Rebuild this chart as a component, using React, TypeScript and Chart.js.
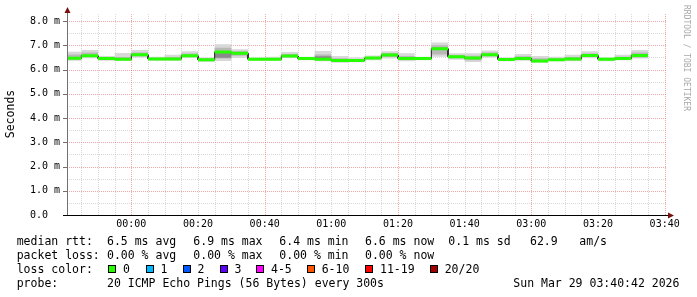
import React, { useEffect, useRef } from 'react';
import { Chart, registerables } from 'chart.js';

Chart.register(...registerables);

// ---- time axis (minutes of real time since 23:40, DST jump 02:00 -> 03:00) ----
const graphStart = 0.7;   // 23:40:42
const graphEnd = 180.7;   // 03:40:42 (CEST)
const stepEnd = [5, 10, 15, 20, 25, 30, 35, 40, 45, 50, 55, 60, 65, 70, 75, 80, 85, 90, 95, 100, 105, 110, 115, 120, 125, 130, 135, 140, 145, 150, 155, 160, 165, 170, 175];
const xGridMinutes = [5, 10, 15, 20, 25, 30, 35, 40, 45, 50, 55, 60, 65, 70, 75, 80, 85, 90, 95, 100, 105, 110, 115, 120, 125, 130, 135, 140, 145, 150, 155, 160, 165, 170, 175, 180];
const xMajorMinutes = [20, 60, 100, 140, 180];
const xTickValues = [20, 40, 60, 80, 100, 120, 140, 160, 180];
const xTickLabels = ['00:00', '00:20', '00:40', '01:00', '01:20', '01:40', '03:00', '03:20', '03:40'];

// ---- value axis (ms) ----
const yGridValues = [0, 0.5, 1, 1.5, 2, 2.5, 3, 3.5, 4, 4.5, 5, 5.5, 6, 6.5, 7, 7.5, 8];
const yTickValues = [0, 1, 2, 3, 4, 5, 6, 7, 8];
const yTickLabels = ['0.0  ', '1.0 m', '2.0 m', '3.0 m', '4.0 m', '5.0 m', '6.0 m', '7.0 m', '8.0 m'];
const yMax = 8.33;

// ---- series (ms) ----
const median = [6.46, 6.57, 6.45, 6.42, 6.61, 6.43, 6.43, 6.57, 6.40, 6.72, 6.67, 6.42, 6.42, 6.56, 6.45, 6.42, 6.37, 6.37, 6.47, 6.60, 6.45, 6.45, 6.86, 6.53, 6.47, 6.61, 6.41, 6.45, 6.35, 6.40, 6.43, 6.58, 6.42, 6.45, 6.58];
const smokeMax = [6.73, 6.80, 6.56, 6.68, 6.80, 6.53, 6.61, 6.75, 6.50, 7.04, 6.83, 6.48, 6.53, 6.72, 6.53, 6.76, 6.56, 6.50, 6.58, 6.75, 6.67, 6.53, 7.11, 6.67, 6.67, 6.78, 6.50, 6.64, 6.56, 6.53, 6.61, 6.75, 6.50, 6.61, 6.80];
const smokeMin = [6.36, 6.46, 6.36, 6.36, 6.50, 6.36, 6.36, 6.47, 6.31, 6.35, 6.47, 6.36, 6.36, 6.47, 6.38, 6.34, 6.28, 6.30, 6.38, 6.45, 6.34, 6.38, 6.53, 6.40, 6.31, 6.50, 6.34, 6.36, 6.28, 6.34, 6.34, 6.47, 6.34, 6.38, 6.45];
const smokeHi = [6.62, 6.70, 6.50, 6.52, 6.70, 6.48, 6.52, 6.66, 6.45, 6.90, 6.75, 6.45, 6.47, 6.64, 6.49, 6.62, 6.46, 6.43, 6.52, 6.68, 6.56, 6.49, 7.00, 6.60, 6.57, 6.70, 6.45, 6.55, 6.46, 6.46, 6.52, 6.66, 6.46, 6.53, 6.70];
const smokeLo = [6.40, 6.52, 6.40, 6.38, 6.55, 6.39, 6.39, 6.52, 6.35, 6.45, 6.57, 6.39, 6.39, 6.51, 6.41, 6.37, 6.32, 6.33, 6.42, 6.52, 6.39, 6.41, 6.62, 6.46, 6.38, 6.55, 6.37, 6.40, 6.31, 6.37, 6.38, 6.52, 6.38, 6.41, 6.50];
const coreHi = [6.50, 6.60, 6.47, 6.45, 6.64, 6.45, 6.46, 6.60, 6.42, 6.74, 6.70, 6.43, 6.44, 6.59, 6.46, 6.55, 6.40, 6.39, 6.49, 6.63, 6.48, 6.47, 6.90, 6.55, 6.50, 6.64, 6.43, 6.48, 6.38, 6.42, 6.46, 6.61, 6.44, 6.48, 6.62];
const coreLo = [6.44, 6.55, 6.43, 6.40, 6.58, 6.41, 6.41, 6.55, 6.38, 6.48, 6.63, 6.40, 6.40, 6.54, 6.43, 6.40, 6.35, 6.35, 6.45, 6.57, 6.42, 6.43, 6.80, 6.50, 6.43, 6.58, 6.39, 6.43, 6.33, 6.38, 6.41, 6.55, 6.40, 6.43, 6.55];

// ---- legend texts ----
const rttStats = ['6.5 ms avg', '6.9 ms max', '6.4 ms min', '6.6 ms now', '0.1 ms sd', '62.9', 'am/s'];
const lossStats = ['0.00 % avg', '0.00 % max', '0.00 % min', '0.00 % now'];
const lossLevels = ['0', '1', '2', '3', '4-5', '6-10', '11-19', '20/20'];
const lossColors = ['#26ff00', '#00b8ff', '#0059ff', '#5e00ff', '#ff00ff', '#ff5500', '#ff0000', '#a10000'];
const probeText = '20 ICMP Echo Pings (56 Bytes) every 300s';
const dateText = 'Sun Mar 29 03:40:42 2026';
const watermark = 'RRDTOOL / TOBI OETIKER';

const MONO = "'DejaVu Sans Mono', monospace";
const MINOR_GRID = 'rgba(186,186,186,0.55)';
const MAJOR_GRID = 'rgba(224,80,80,0.5)';

function stepPoints(values: number[]) {
  const pts: { x: number; y: number | null }[] = [];
  values.forEach((v, i) => {
    const s = i === 0 ? graphStart : stepEnd[i - 1];
    pts.push({ x: s, y: v }, { x: stepEnd[i], y: v });
  });
  return pts;
}

function segmentPoints(values: number[]) {
  const pts: { x: number; y: number | null }[] = [];
  values.forEach((v, i) => {
    const s = i === 0 ? graphStart : stepEnd[i - 1];
    pts.push({ x: s, y: v }, { x: stepEnd[i], y: v }, { x: stepEnd[i], y: null });
  });
  return pts;
}

const gridPlugin = {
  id: 'rrdGrid',
  beforeDatasetsDraw(chart: any) {
    const { ctx, chartArea } = chart;
    const { left, right, top, bottom } = chartArea;
    const xs = chart.scales.x;
    const ys = chart.scales.y;
    ctx.save();
    ctx.lineWidth = 1;
    ctx.setLineDash([1, 1]);
    const drawSet = (major: boolean) => {
      ctx.strokeStyle = major ? MAJOR_GRID : MINOR_GRID;
      ctx.beginPath();
      xGridMinutes.forEach((v) => {
        if (xMajorMinutes.includes(v) !== major) return;
        const px = Math.round(xs.getPixelForValue(v)) + 0.5;
        ctx.moveTo(px, bottom);
        ctx.lineTo(px, top);
      });
      yGridValues.forEach((v) => {
        if (v === 0) return;
        if (yTickValues.includes(v) !== major) return;
        const py = Math.round(ys.getPixelForValue(v)) + 0.5;
        ctx.moveTo(left, py);
        ctx.lineTo(right, py);
      });
      ctx.stroke();
    };
    drawSet(false);
    drawSet(true);
    ctx.restore();
  },
};

const axesPlugin = {
  id: 'rrdAxes',
  afterDatasetsDraw(chart: any) {
    const { ctx, chartArea } = chart;
    const { left, right, top, bottom } = chartArea;
    const ys = chart.scales.y;
    ctx.save();
    ctx.lineWidth = 1;
    // y axis
    ctx.strokeStyle = '#707070';
    ctx.beginPath();
    ctx.moveTo(left + 0.5, bottom);
    ctx.lineTo(left + 0.5, top - 3);
    yTickValues.forEach((v) => {
      const py = Math.round(ys.getPixelForValue(v)) + 0.5;
      ctx.moveTo(left - 4, py);
      ctx.lineTo(left, py);
    });
    ctx.stroke();
    // x axis
    ctx.strokeStyle = '#000000';
    ctx.beginPath();
    ctx.moveTo(left - 4, bottom + 0.5);
    ctx.lineTo(right + 2, bottom + 0.5);
    ctx.stroke();
    // arrows
    ctx.fillStyle = '#7a1010';
    ctx.beginPath();
    ctx.moveTo(left + 0.5, top - 6);
    ctx.lineTo(left + 3.5, top);
    ctx.lineTo(left - 2.5, top);
    ctx.closePath();
    ctx.fill();
    ctx.beginPath();
    ctx.moveTo(right + 7, bottom + 0.5);
    ctx.lineTo(right + 1, bottom + 3.5);
    ctx.lineTo(right + 1, bottom - 2.5);
    ctx.closePath();
    ctx.fill();
    ctx.restore();
  },
};

function ChartCanvas() {
  const ref = useRef<HTMLCanvasElement | null>(null);
  useEffect(() => {
    if (!ref.current) return;
    const transparent = 'rgba(0,0,0,0)';
    const band = (data: any, color: string, fill: any, order: number) => ({
      data,
      borderColor: transparent,
      borderWidth: 0,
      backgroundColor: color,
      fill,
      pointRadius: 0,
      tension: 0,
      order,
    });
    const chart = new Chart(ref.current, {
      type: 'line',
      data: {
        datasets: [
          {
            data: segmentPoints(median),
            borderColor: '#26ff00',
            borderWidth: 3,
            borderCapStyle: 'butt',
            pointRadius: 0,
            tension: 0,
            fill: false,
            spanGaps: false,
            order: 0,
          } as any,
          {
            data: stepPoints(median),
            borderColor: '#1c1c1c',
            borderWidth: 1,
            pointRadius: 0,
            tension: 0,
            fill: false,
            order: 1,
          } as any,
          band(stepPoints(coreHi), '#8a8a8a', '+1', 2),
          band(stepPoints(coreLo), transparent, false, 2),
          band(stepPoints(smokeHi), '#b8b8b8', '+1', 3),
          band(stepPoints(smokeLo), transparent, false, 3),
          band(stepPoints(smokeMax), '#d8d8d8', '+1', 4),
          band(stepPoints(smokeMin), transparent, false, 4),
        ],
      },
      options: {
        responsive: false,
        animation: false,
        events: [],
        layout: { padding: { left: 0, top: 13, right: 30, bottom: 0 } },
        plugins: {
          legend: { display: false },
          tooltip: { enabled: false },
          title: { display: false },
        },
        scales: {
          x: {
            type: 'linear',
            min: graphStart,
            max: graphEnd,
            afterBuildTicks: (scale: any) => {
              scale.ticks = xGridMinutes.map((v) => ({ value: v }));
            },
            afterFit: (scale: any) => {
              scale.height = 82;
            },
            ticks: {
              autoSkip: false,
              maxRotation: 0,
              minRotation: 0,
              padding: 3,
              color: '#000',
              font: { family: MONO, size: 10 },
              callback: (value: any) => {
                const idx = xTickValues.indexOf(Number(value));
                return idx >= 0 ? xTickLabels[idx] : '';
              },
            },
            grid: { display: false, drawTicks: false },
            border: { display: false },
          },
          y: {
            type: 'linear',
            min: 0,
            max: yMax,
            afterBuildTicks: (scale: any) => {
              scale.ticks = yGridValues.map((v) => ({ value: v }));
            },
            afterFit: (scale: any) => {
              scale.width = 67;
            },
            ticks: {
              padding: 7,
              color: '#000',
              font: { family: MONO, size: 10 },
              callback: (value: any) => {
                const idx = yTickValues.indexOf(Number(value));
                return idx >= 0 ? yTickLabels[idx] : '';
              },
            },
            grid: { display: false, drawTicks: false },
            border: { display: false },
            title: {
              display: true,
              text: 'Seconds',
              color: '#000',
              font: { family: MONO, size: 11.5 },
              padding: { top: 4, bottom: 0 },
            },
          },
        },
      } as any,
      plugins: [gridPlugin, axesPlugin],
    });
    return () => chart.destroy();
  }, []);
  return (
    <canvas
      ref={ref}
      width={697}
      height={297}
      style={{ position: 'absolute', left: 0, top: 0, width: 697, height: 297 }}
    />
  );
}

const txt: React.CSSProperties = {
  position: 'absolute',
  fontFamily: MONO,
  fontSize: 11.5,
  lineHeight: '14px',
  whiteSpace: 'pre',
  color: '#000',
};

export default function App() {
  const rttX = [107, 193.3, 279.3, 365, 448.3, 530, 579.3];
  const lossX = [107, 193.3, 279.3, 365];
  const boxX = [108.3, 145.7, 182.7, 219.7, 256.3, 307, 365.3, 430];
  const rowTop = [234.3, 247.7, 262.3, 276];
  return (
    <div style={{ position: 'fixed', left: 0, top: 0, width: 697, height: 297, background: '#fff', overflow: 'hidden' }}>
      <ChartCanvas />
      <div
        style={{
          position: 'absolute',
          left: 681,
          top: 5,
          writingMode: 'vertical-rl',
          fontFamily: MONO,
          fontSize: 8,
          lineHeight: '10px',
          color: '#a8a8a8',
          whiteSpace: 'pre',
        }}
      >
        {watermark}
      </div>
      <span style={{ ...txt, left: 16.7, top: rowTop[0] }}>median rtt:</span>
      {rttStats.map((s, i) => (
        <span key={'r' + i} style={{ ...txt, left: rttX[i], top: rowTop[0] }}>{s}</span>
      ))}
      <span style={{ ...txt, left: 16.7, top: rowTop[1] }}>packet loss:</span>
      {lossStats.map((s, i) => (
        <span key={'l' + i} style={{ ...txt, left: lossX[i], top: rowTop[1] }}>{s}</span>
      ))}
      <span style={{ ...txt, left: 16.7, top: rowTop[2] }}>loss color:</span>
      {lossLevels.map((s, i) => (
        <React.Fragment key={'c' + i}>
          <span
            style={{
              position: 'absolute',
              left: boxX[i],
              top: rowTop[2] + 3,
              width: 6,
              height: 6,
              border: '1px solid #000',
              background: lossColors[i],
            }}
          />
          <span style={{ ...txt, left: boxX[i] + 14.7, top: rowTop[2] }}>{s}</span>
        </React.Fragment>
      ))}
      <span style={{ ...txt, left: 16.7, top: rowTop[3] }}>probe:</span>
      <span style={{ ...txt, left: 107, top: rowTop[3] }}>{probeText}</span>
      <span style={{ ...txt, left: 513.3, top: rowTop[3] }}>{dateText}</span>
    </div>
  );
}
